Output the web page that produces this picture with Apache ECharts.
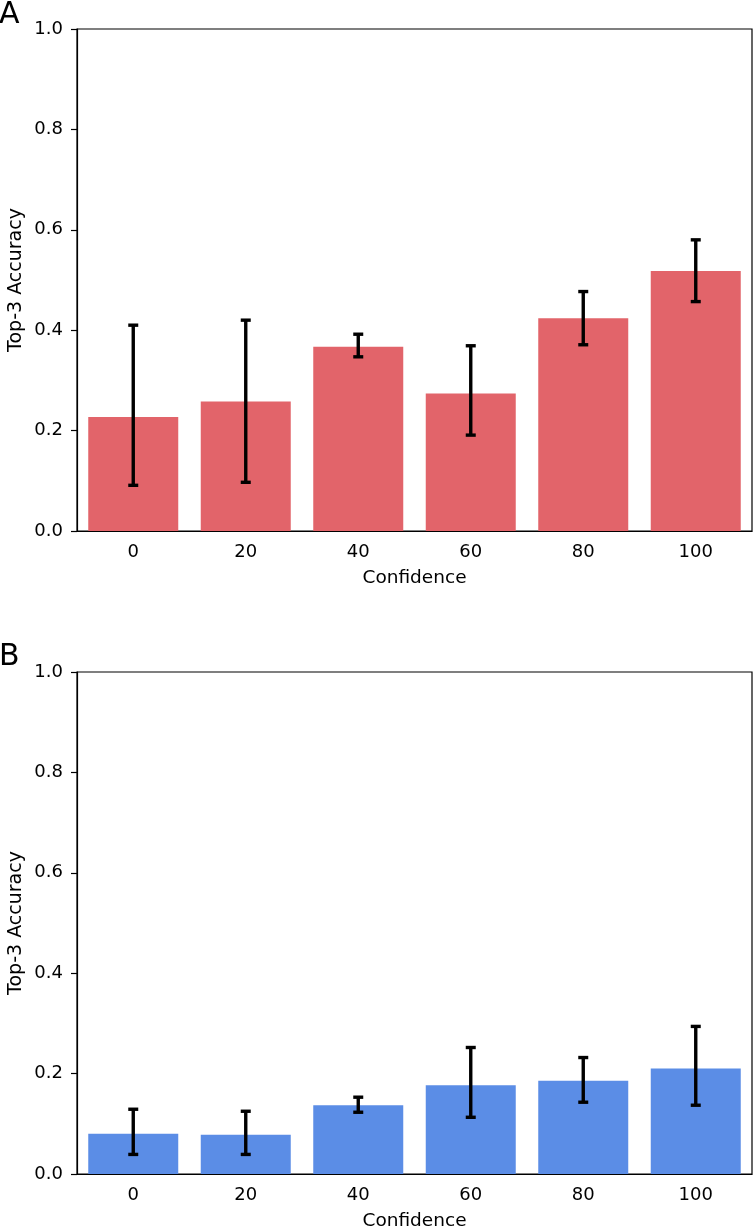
<!DOCTYPE html>
<html>
<head>
<meta charset="utf-8">
<script src="https://cdn.jsdelivr.net/npm/echarts@6/dist/echarts.min.js"></script>
<style>
  html, body { margin: 0; padding: 0; background: #fff; }
  #chart { width: 753px; height: 1228px; }
</style>
</head>
<body>
<div id="chart"></div>
<script>
const categories = ['0', '20', '40', '60', '80', '100'];
const yTicks = [0, 0.2, 0.4, 0.6, 0.8, 1.0];

const accA  = [0.227, 0.258, 0.367, 0.274, 0.424, 0.518];
const lowA  = [0.091, 0.097, 0.347, 0.191, 0.371, 0.457];
const highA = [0.410, 0.420, 0.392, 0.369, 0.477, 0.580];

const accB  = [0.080, 0.078, 0.137, 0.177, 0.186, 0.210];
const lowB  = [0.039, 0.039, 0.123, 0.113, 0.143, 0.137];
const highB = [0.129, 0.125, 0.153, 0.252, 0.232, 0.294];

const FONT = 'DejaVu Sans';
const RED = '#E2646A';
const BLUE = '#5B8DE6';

function errData(low, high) {
  return categories.map((c, i) => [i, low[i], high[i]]);
}

function renderErr(params, api) {
  const x = api.value(0);
  const lo = api.coord([x, api.value(1)]);
  const hi = api.coord([x, api.value(2)]);
  const cap = 5;
  const style = { stroke: '#000', lineWidth: 3.4 };
  return {
    type: 'group',
    children: [
      { type: 'line', shape: { x1: lo[0], y1: lo[1], x2: hi[0], y2: hi[1] }, style },
      { type: 'line', shape: { x1: hi[0] - cap, y1: hi[1], x2: hi[0] + cap, y2: hi[1] }, style },
      { type: 'line', shape: { x1: lo[0] - cap, y1: lo[1], x2: lo[0] + cap, y2: lo[1] }, style }
    ]
  };
}

function xAxisCfg(gridIndex) {
  return {
    type: 'category', gridIndex, data: categories,
    boundaryGap: true,
    axisLine: { lineStyle: { color: '#000', width: 1.2 } },
    axisTick: { alignWithLabel: true, length: 6, lineStyle: { color: '#000', width: 1.2 } },
    axisLabel: { color: '#000', fontFamily: FONT, fontSize: 18, margin: 12 },
    name: 'Confidence', nameLocation: 'middle', nameGap: 38, nameMoveOverlap: false,
    nameTextStyle: { color: '#000', fontFamily: FONT, fontSize: 18.5 }
  };
}
function yAxisCfg(gridIndex) {
  return {
    type: 'value', gridIndex, min: 0, max: 1, interval: 0.2,
    axisLine: { show: true, lineStyle: { color: '#000', width: 1.2 } },
    axisTick: { show: true, length: 6, lineStyle: { color: '#000', width: 1.2 } },
    splitLine: { show: false },
    axisLabel: { color: '#000', fontFamily: FONT, fontSize: 18, margin: 14,
                 formatter: v => v.toFixed(1) },
    name: 'Top-3 Accuracy', nameLocation: 'middle', nameGap: 51, nameRotate: 90, nameMoveOverlap: false,
    nameTextStyle: { color: '#000', fontFamily: FONT, fontSize: 19 }
  };
}

const chart = echarts.init(document.getElementById('chart'), null, { renderer: 'canvas' });
chart.setOption({
  animation: false,
  backgroundColor: '#fff',
  grid: [
    { left: 77, top: 29, width: 675, height: 502, show: true, borderColor: '#000', borderWidth: 1.2,
      backgroundColor: 'transparent', containLabel: false, outerBoundsMode: 'none' },
    { left: 77, top: 672, width: 675, height: 502, show: true, borderColor: '#000', borderWidth: 1.2,
      backgroundColor: 'transparent', containLabel: false, outerBoundsMode: 'none' }
  ],
  xAxis: [xAxisCfg(0), xAxisCfg(1)],
  yAxis: [yAxisCfg(0), yAxisCfg(1)],
  graphic: [
    { type: 'text', left: -1, top: 0, style: { text: 'A', fontFamily: FONT, fontSize: 30, fill: '#000' } },
    { type: 'text', left: -1, top: 642, style: { text: 'B', fontFamily: FONT, fontSize: 30, fill: '#000' } }
  ],
  series: [
    { type: 'bar', xAxisIndex: 0, yAxisIndex: 0, data: accA, barWidth: '80%', itemStyle: { color: RED } },
    { type: 'custom', xAxisIndex: 0, yAxisIndex: 0, data: errData(lowA, highA), renderItem: renderErr, z: 5 },
    { type: 'bar', xAxisIndex: 1, yAxisIndex: 1, data: accB, barWidth: '80%', itemStyle: { color: BLUE } },
    { type: 'custom', xAxisIndex: 1, yAxisIndex: 1, data: errData(lowB, highB), renderItem: renderErr, z: 5 }
  ]
});
</script>
</body>
</html>
